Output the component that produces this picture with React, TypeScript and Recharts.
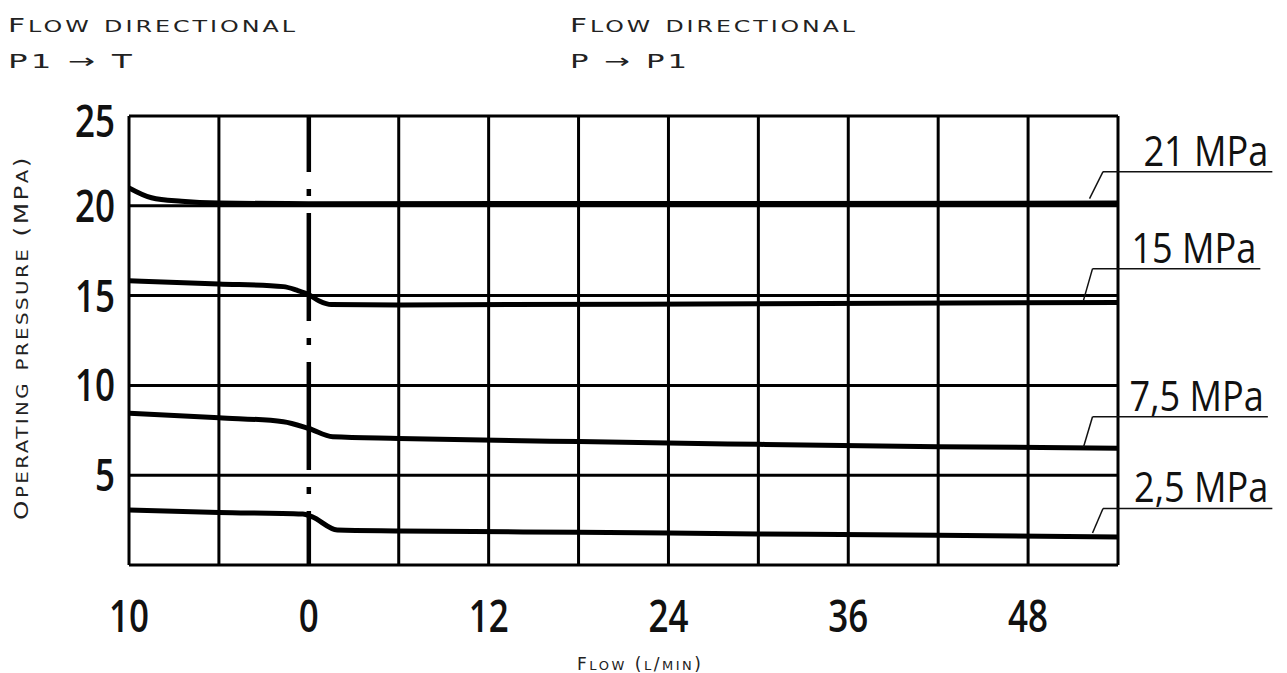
import { LineChart, Line, XAxis, YAxis, ReferenceLine, ReferenceDot } from "recharts";

// axis ticks
const xTickValues = [-12, 0, 12, 24, 36, 48];
const xTickLabels = ["10", "0", "12", "24", "36", "48"];
const xGridValues = [-12, -6, 6, 12, 18, 24, 30, 36, 42, 48, 54];
const yTickValues = [0, 5, 10, 15, 20, 25];
const yTickLabels = ["", "5", "10", "15", "20", "25"];

// pressure curves (flow, MPa)
const curve21Flow = [-12, -10.5, -8.5, -6, 0, 54];
const curve21Pressure = [21.0, 20.45, 20.25, 20.15, 20.12, 20.15];

const curve15Flow = [-12, -6, -1.7, -0.8, 0, 0.7, 1.5, 6, 30, 54];
const curve15Pressure = [15.83, 15.65, 15.5, 15.3, 15.05, 14.7, 14.5, 14.48, 14.55, 14.62];

const curve75Flow = [-12, -6, -1.7, 0, 1.6, 6, 18, 30, 42, 54];
const curve75Pressure = [8.45, 8.2, 7.98, 7.6, 7.14, 7.05, 6.87, 6.72, 6.59, 6.5];

const curve25Flow = [-12, -6, -0.4, 0.2, 1.9, 6, 18, 30, 42, 54];
const curve25Pressure = [3.06, 2.93, 2.84, 2.69, 1.95, 1.9, 1.82, 1.73, 1.65, 1.56];

// leader labels on the right
const leaderLabels = ["21 MPa", "15 MPa", "7,5 MPa", "2,5 MPa"];
const leaderFootFlow = [52.1, 51.7, 51.7, 52.3];
const leaderFootPressure = [20.4, 14.75, 6.57, 1.78];
const leaderKneeFlow = [53.0, 52.3, 52.3, 53.0];
const leaderKneePressure = [21.9, 16.5, 8.25, 3.15];
const leaderEndFlow = [64.3, 63.5, 64.0, 64.3];

const toData = (flow: number[], pressure: number[]) =>
  flow.map((q, i) => ({ q, p: pressure[i] }));

const curves = [
  toData(curve21Flow, curve21Pressure),
  toData(curve15Flow, curve15Pressure),
  toData(curve75Flow, curve75Pressure),
  toData(curve25Flow, curve25Pressure),
];

const digitFont = "'Open Sans', sans-serif";
const titleFont = "'DejaVu Sans', sans-serif";

// fake small caps: lowercase runs drawn smaller and uppercased
function smallCaps(text: string, big: number, small: number) {
  const runs: { s: string; low: boolean }[] = [];
  for (const ch of text) {
    const low = ch !== ch.toUpperCase();
    const last = runs[runs.length - 1];
    if (last && last.low === low) last.s += ch;
    else runs.push({ s: ch, low });
  }
  return runs.map((r, i) => (
    <tspan
      key={i}
      fontSize={r.low ? small : big}
      style={r.low ? { textTransform: "uppercase" } : undefined}
    >
      {r.s}
    </tspan>
  ));
}

const XTick = (props: any) => {
  const { x, y, payload } = props;
  const label = xTickLabels[xTickValues.indexOf(payload.value)];
  return (
    <g transform={`translate(${x},${y})`}>
      <text
        transform="scale(0.76,1)"
        y={67}
        textAnchor="middle"
        fontFamily={digitFont}
        fontWeight={600}
        fontSize={46}
        fill="#111"
      >
        {label}
      </text>
    </g>
  );
};

const YTick = (props: any) => {
  const { x, y, payload } = props;
  const label = yTickLabels[yTickValues.indexOf(payload.value)];
  return (
    <g transform={`translate(${x - 14},${y})`}>
      <text
        transform="scale(0.76,1)"
        y={payload.value === 25 ? 21 : 16}
        textAnchor="end"
        fontFamily={digitFont}
        fontWeight={600}
        fontSize={46}
        fill="#111"
      >
        {label}
      </text>
    </g>
  );
};

const MpaText = (text: string) => (props: any) => (
  <g transform={`translate(${props.cx - 4},${props.cy - 6})`}>
    <text
      transform="scale(0.86,1)"
      textAnchor="end"
      fontFamily={digitFont}
      fontSize={42}
      fill="#111"
    >
      {text}
    </text>
  </g>
);

export default function App() {
  return (
    <div style={{ position: "absolute", left: 0, top: 0, width: 1287, height: 673, background: "#fff" }}>
      <LineChart
        width={1287}
        height={673}
        margin={{ top: 116, right: 169, bottom: 48, left: 29 }}
      >
        <XAxis
          dataKey="q"
          type="number"
          domain={[-12, 54]}
          ticks={xTickValues}
          allowDataOverflow
          axisLine={false}
          tickLine={false}
          tickSize={0}
          tickMargin={0}
          height={60}
          tick={<XTick />}
          interval={0}
        />
        <YAxis
          dataKey="p"
          type="number"
          domain={[0, 25]}
          ticks={yTickValues}
          allowDataOverflow
          axisLine={false}
          tickLine={false}
          tickSize={0}
          tickMargin={0}
          width={100}
          tick={<YTick />}
          interval={0}
        />
        {yTickValues.map((v) => (
          <ReferenceLine key={`gy${v}`} y={v} stroke="#000" strokeWidth={3} />
        ))}
        {xGridValues.map((v) => (
          <ReferenceLine key={`gx${v}`} x={v} stroke="#000" strokeWidth={3} />
        ))}
        <ReferenceLine
          x={0}
          stroke="#000"
          strokeWidth={4.5}
          strokeDasharray="108 17 7 17"
          strokeDashoffset={54}
        />
        {curves.map((data, i) => (
          <Line
            key={`c${i}`}
            data={data}
            dataKey="p"
            type="monotone"
            stroke="#000"
            strokeWidth={5}
            dot={false}
            activeDot={false}
            isAnimationActive={false}
          />
        ))}
        {leaderLabels.map((label, i) => (
          <ReferenceLine
            key={`ls${i}`}
            segment={[
              { x: leaderFootFlow[i], y: leaderFootPressure[i] },
              { x: leaderKneeFlow[i], y: leaderKneePressure[i] },
            ]}
            ifOverflow="visible"
            stroke="#111"
            strokeWidth={1.5}
          />
        ))}
        {leaderLabels.map((label, i) => (
          <ReferenceLine
            key={`lh${i}`}
            segment={[
              { x: leaderKneeFlow[i], y: leaderKneePressure[i] },
              { x: leaderEndFlow[i], y: leaderKneePressure[i] },
            ]}
            ifOverflow="visible"
            stroke="#111"
            strokeWidth={1.5}
          />
        ))}
        {leaderLabels.map((label, i) => (
          <ReferenceDot
            key={`lt${i}`}
            x={leaderEndFlow[i]}
            y={leaderKneePressure[i]}
            ifOverflow="visible"
            shape={MpaText(label)}
          />
        ))}
      </LineChart>
      <svg
        width={1287}
        height={673}
        style={{ position: "absolute", left: 0, top: 0, pointerEvents: "none" }}
      >
        <g fontFamily={titleFont} fill="#222" letterSpacing={2}>
          <text x={8} y={32} textLength={290} lengthAdjust="spacingAndGlyphs">
            {smallCaps("Flow directional", 20, 16)}
          </text>
          <text x={8} y={68} textLength={127} lengthAdjust="spacingAndGlyphs">
            {smallCaps("P1 → T", 20, 16)}
          </text>
          <text x={570} y={32} textLength={288} lengthAdjust="spacingAndGlyphs">
            {smallCaps("Flow directional", 20, 16)}
          </text>
          <text x={570} y={68} textLength={120} lengthAdjust="spacingAndGlyphs">
            {smallCaps("P → P1", 20, 16)}
          </text>
          <text x={577} y={670} letterSpacing={0} textLength={124} lengthAdjust="spacing">
            {smallCaps("Flow (l/min)", 17, 13)}
          </text>
          <text transform="translate(28,520) rotate(-90)" textLength={365} lengthAdjust="spacingAndGlyphs">
            {smallCaps("Operating pressure (MPa)", 20, 16)}
          </text>
        </g>
      </svg>
    </div>
  );
}
